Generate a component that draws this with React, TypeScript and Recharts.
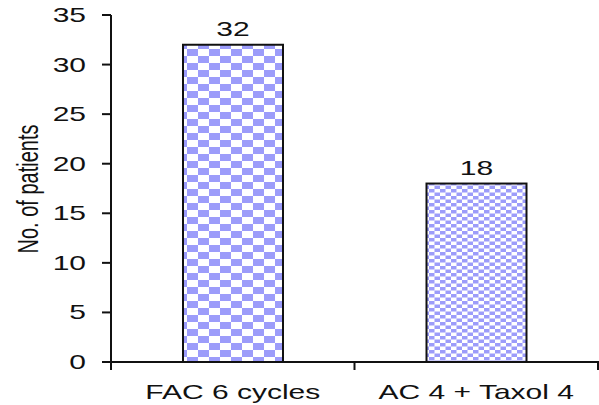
import { BarChart, Bar, XAxis, YAxis, LabelList } from 'recharts'

const categories = ['FAC 6 cycles', 'AC 4 + Taxol 4']
const patients = [32, 18]
const yTicks = [0, 5, 10, 15, 20, 25, 30, 35]
const patternIds = ['checkBig', 'checkSmall']

const data = categories.map((name, i) => ({ name, valor: patients[i], pat: patternIds[i] }))

// the source picture is stretched sideways, so every text is widened too
const SX = 1.5
const FONT = '"Liberation Sans", Arial, sans-serif'
const BAND = (599 - 111 - 1) / categories.length

function YTick({ x, y, payload }: any) {
  return (
    <g transform={`translate(${x},${y}) scale(${SX},1)`}>
      <text textAnchor="end" dy="0.35em" fontSize={20} fontFamily={FONT} fill="#111">
        {payload.value}
      </text>
    </g>
  )
}

function XTick({ x, y, payload, index }: any) {
  return (
    <g>
      {index === 0 && (
        <line x1={x - BAND / 2} x2={x - BAND / 2} y1={y - 1} y2={y + 8} stroke="#111" strokeWidth={2} />
      )}
      <line x1={x + BAND / 2} x2={x + BAND / 2} y1={y - 1} y2={y + 8} stroke="#111" strokeWidth={2} />
      <g transform={`translate(${x},${y + 37}) scale(${SX},1)`}>
        <text textAnchor="middle" fontSize={20} fontFamily={FONT} fill="#111">
          {payload.value}
        </text>
      </g>
    </g>
  )
}

function TopLabel({ x, y, width, value }: any) {
  return (
    <g transform={`translate(${x + width / 2},${y - 9}) scale(${SX},1)`}>
      <text textAnchor="middle" fontSize={20} fontFamily={FONT} fill="#111">
        {value}
      </text>
    </g>
  )
}

function BarShape({ x, y, width, height, pat }: any) {
  return (
    <rect x={x} y={y} width={width} height={height} fill={`url(#${pat})`} stroke="#111" strokeWidth={2} />
  )
}

export default function App() {
  return (
    <div style={{ position: 'absolute', left: 0, top: 0, background: '#fff' }}>
      <BarChart
        width={599}
        height={405}
        data={data}
        margin={{ top: 15, right: 1, bottom: 0, left: 0 }}
      >
        <defs>
          <pattern id="checkBig" patternUnits="userSpaceOnUse" width={22} height={14}>
            <rect width={22} height={14} fill="#fff" />
            <rect x={0} y={0} width={11} height={7} fill="#9c9cfa" />
            <rect x={11} y={7} width={11} height={7} fill="#9c9cfa" />
          </pattern>
          <pattern id="checkSmall" patternUnits="userSpaceOnUse" width={11} height={7}>
            <rect width={11} height={7} fill="#fff" />
            <rect x={0} y={0} width={5.5} height={3.5} fill="#9c9cfa" />
            <rect x={5.5} y={3.5} width={5.5} height={3.5} fill="#9c9cfa" />
          </pattern>
        </defs>
        <XAxis
          dataKey="name"
          height={43}
          axisLine={{ stroke: '#111', strokeWidth: 2 }}
          tickLine={false}
          tickSize={0}
          tickMargin={0}
          tick={<XTick />}
          interval={0}
        />
        <YAxis
          width={111}
          domain={[0, 35]}
          ticks={yTicks}
          interval={0}
          axisLine={{ stroke: '#111', strokeWidth: 2 }}
          tickLine={{ stroke: '#111', strokeWidth: 2 }}
          tickSize={9}
          tickMargin={16}
          tick={<YTick />}
        />
        <text
          transform={`translate(27,189) rotate(-90) scale(1,${SX})`}
          textAnchor="middle"
          dominantBaseline="central"
          fontSize={20}
          fontFamily={FONT}
          fill="#111"
        >
          No. of patients
        </text>
        <Bar dataKey="valor" barSize={100} shape={<BarShape />} isAnimationActive={false}>
          <LabelList dataKey="valor" content={<TopLabel />} />
        </Bar>
      </BarChart>
    </div>
  )
}
